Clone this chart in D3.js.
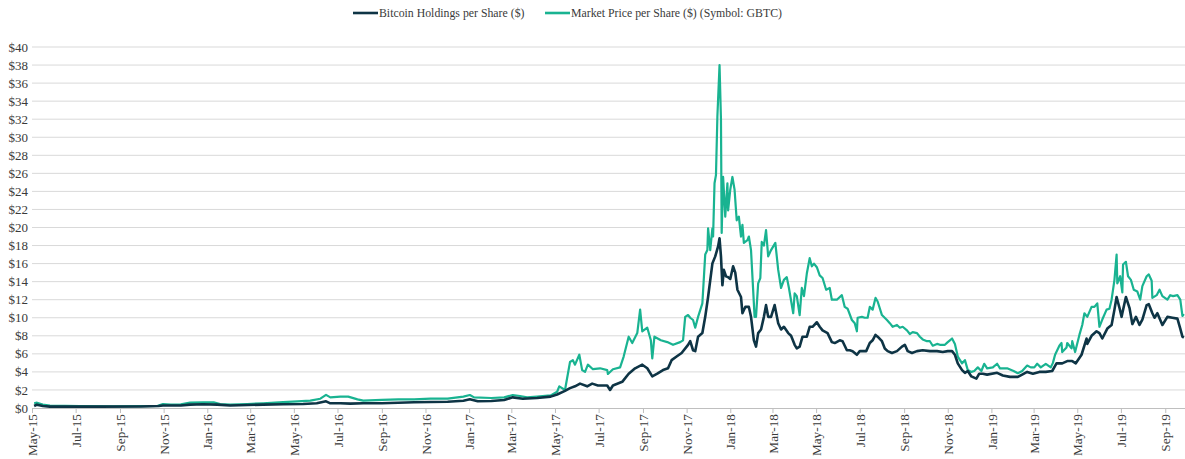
<!DOCTYPE html>
<html>
<head>
<meta charset="utf-8">
<script src="https://cdn.jsdelivr.net/npm/d3@7"></script>
<style>
  body { margin: 0; background: #fff; }
  svg text { font-family: "Liberation Serif", "Times New Roman", serif; fill: #3a3a3a; }
</style>
</head>
<body>
<div id="chart"></div>
<script>
// Data (dates, $ per share)

var holdingsDates = ["2015-05-04","2015-05-08","2015-05-16","2015-05-26","2015-08-04","2015-09-30","2015-10-25","2015-10-31","2015-11-25","2015-12-08","2015-12-26",
  "2016-01-15","2016-02-02","2016-02-26","2016-03-19","2016-04-16","2016-05-14","2016-06-02","2016-06-15","2016-06-21","2016-07-05","2016-07-19","2016-08-06","2016-09-01","2016-09-24","2016-10-16","2016-11-08","2016-12-02","2016-12-24",
  "2017-01-02","2017-01-13","2017-02-01","2017-02-19","2017-03-03","2017-03-17","2017-04-06","2017-04-25","2017-05-04","2017-05-15","2017-05-22","2017-05-29","2017-06-05","2017-06-15","2017-06-22","2017-06-30","2017-07-13","2017-07-17","2017-07-21","2017-08-03","2017-08-12","2017-08-21","2017-08-31","2017-09-07","2017-09-14","2017-09-21","2017-09-29","2017-10-06","2017-10-11","2017-10-18","2017-10-25","2017-11-03","2017-11-06","2017-11-10","2017-11-13","2017-11-17","2017-11-23","2017-11-27","2017-12-01","2017-12-07","2017-12-11","2017-12-15","2017-12-17","2017-12-19","2017-12-21","2017-12-23","2017-12-26","2017-12-29",
  "2018-01-01","2018-01-05","2018-01-08","2018-01-11","2018-01-16","2018-01-18","2018-01-22","2018-01-27","2018-01-30","2018-02-03","2018-02-06","2018-02-09","2018-02-13","2018-02-17","2018-02-20","2018-02-23","2018-02-27","2018-03-04","2018-03-09","2018-03-13","2018-03-17","2018-03-23","2018-03-27","2018-04-01","2018-04-04","2018-04-08","2018-04-12","2018-04-18","2018-04-22","2018-04-26","2018-05-02","2018-05-06","2018-05-10","2018-05-17","2018-05-23","2018-05-27","2018-06-03","2018-06-07","2018-06-13","2018-06-17","2018-06-21","2018-06-27","2018-07-01","2018-07-05","2018-07-10","2018-07-15","2018-07-19","2018-07-23","2018-07-26","2018-08-01","2018-08-05","2018-08-09","2018-08-15","2018-08-22","2018-08-29","2018-09-02","2018-09-06","2018-09-12","2018-09-19","2018-09-27","2018-10-07","2018-10-17","2018-10-25","2018-11-01","2018-11-07","2018-11-11","2018-11-15","2018-11-21","2018-11-25","2018-11-29","2018-12-04","2018-12-11","2018-12-15","2018-12-20","2018-12-26",
  "2019-01-09","2019-01-17","2019-01-27","2019-02-07","2019-02-13","2019-02-20","2019-02-28","2019-03-09","2019-03-18","2019-03-27","2019-04-02","2019-04-10","2019-04-17","2019-04-24","2019-04-29","2019-05-07","2019-05-14","2019-05-15","2019-05-21","2019-05-28","2019-06-01","2019-06-05","2019-06-12","2019-06-18","2019-06-22","2019-06-25","2019-06-29","2019-07-02","2019-07-03","2019-07-08","2019-07-13","2019-07-17","2019-07-22","2019-07-27","2019-07-31","2019-08-06","2019-08-09","2019-08-14","2019-08-17","2019-08-21","2019-08-28","2019-09-04","2019-09-11","2019-09-18","2019-09-22","2019-09-25","2019-09-27"];

var holdingsValues = [0.22,0.37,0.22,0.15,0.15,0.16,0.22,0.27,0.27,0.37,0.41,
  0.37,0.27,0.33,0.37,0.41,0.44,0.52,0.74,0.52,0.52,0.48,0.52,0.52,0.59,0.63,0.66,0.70,0.81,
  0.96,0.74,0.77,0.89,1.18,1.03,1.11,1.26,1.5,1.9,2.2,2.4,2.7,2.4,2.7,2.5,2.5,2.0,2.5,2.9,3.8,4.4,4.8,4.4,3.5,3.8,4.2,4.4,5.3,5.7,6.1,7.0,7.4,6.4,6.3,7.9,8.3,10.1,12.3,16.0,16.8,17.9,18.8,16.8,13.6,15.3,14.6,14.5,
  14.3,15.7,15.0,13.1,12.3,10.5,11.2,11.2,10.1,7.5,6.8,8.3,8.7,10.1,11.4,10.1,10.1,11.4,9.4,8.7,9.0,8.3,8.0,7.0,6.6,6.8,7.9,7.9,9.0,9.0,9.5,9.0,8.6,8.3,7.3,7.2,7.5,7.4,6.4,6.4,6.3,5.9,6.3,6.3,6.3,7.2,7.5,8.1,7.9,7.4,6.6,6.3,6.1,6.3,6.8,7.0,6.3,6.1,6.3,6.4,6.3,6.3,6.2,6.3,6.3,5.9,4.95,4.2,3.9,4.1,3.5,3.25,3.8,3.8,3.7,
  3.9,3.6,3.45,3.45,3.7,4.0,3.8,4.0,4.0,4.1,4.95,4.95,5.2,5.2,4.95,5.9,7.7,7.1,8.0,8.5,8.3,7.7,8.8,9.2,10.9,12.3,11.1,10.1,10.5,12.3,11.1,9.3,10.1,9.2,9.8,11.4,11.5,10.5,10.0,10.5,9.2,10.1,10.0,9.9,8.8,7.9,7.8];

var priceDates = ["2015-05-04","2015-05-08","2015-05-16","2015-05-26","2015-07-07","2015-08-22","2015-09-30","2015-10-23","2015-10-31","2015-11-11","2015-11-25","2015-12-08","2015-12-26",
  "2016-01-10","2016-01-19","2016-02-02","2016-02-26","2016-03-19","2016-04-16","2016-05-06","2016-05-24","2016-06-07","2016-06-15","2016-06-21","2016-07-05","2016-07-16","2016-07-29","2016-08-06","2016-09-01","2016-09-24","2016-10-16","2016-11-08","2016-12-02","2016-12-24",
  "2017-01-02","2017-01-08","2017-02-01","2017-02-19","2017-03-03","2017-03-13","2017-03-23","2017-04-06","2017-04-25","2017-05-04","2017-05-07","2017-05-15","2017-05-22","2017-05-26","2017-05-29","2017-06-04","2017-06-08","2017-06-12","2017-06-16","2017-06-23","2017-07-03","2017-07-13","2017-07-14","2017-07-21","2017-07-31","2017-08-05","2017-08-12","2017-08-17","2017-08-24","2017-08-28","2017-08-31","2017-09-07","2017-09-12","2017-09-14","2017-09-17","2017-09-26","2017-10-05","2017-10-13","2017-10-23","2017-10-27","2017-10-30","2017-11-03","2017-11-06","2017-11-10","2017-11-13","2017-11-17","2017-11-23","2017-11-27","2017-11-30","2017-12-01","2017-12-04","2017-12-07","2017-12-08","2017-12-10","2017-12-12","2017-12-14","2017-12-17","2017-12-19","2017-12-20","2017-12-22","2017-12-25","2017-12-28","2017-12-29",
  "2018-01-01","2018-01-04","2018-01-07","2018-01-10","2018-01-13","2018-01-16","2018-01-18","2018-01-20","2018-01-25","2018-01-27","2018-01-30","2018-02-04","2018-02-06","2018-02-09","2018-02-12","2018-02-14","2018-02-17","2018-02-20","2018-02-23","2018-02-27","2018-03-05","2018-03-09","2018-03-13","2018-03-17","2018-03-21","2018-03-24","2018-03-30","2018-04-01","2018-04-04","2018-04-08","2018-04-11","2018-04-14","2018-04-18","2018-04-22","2018-04-25","2018-04-28","2018-05-02","2018-05-06","2018-05-10","2018-05-15","2018-05-20","2018-05-23","2018-05-30","2018-06-06","2018-06-10","2018-06-14","2018-06-20","2018-06-24","2018-06-27","2018-06-28","2018-07-04","2018-07-08","2018-07-12","2018-07-15","2018-07-19","2018-07-23","2018-07-26","2018-08-01","2018-08-08","2018-08-12","2018-08-16","2018-08-22","2018-08-26","2018-08-30","2018-09-05","2018-09-09","2018-09-13","2018-09-19","2018-09-23","2018-09-27","2018-10-03","2018-10-07","2018-10-11","2018-10-17","2018-10-21","2018-10-28","2018-11-01","2018-11-04","2018-11-07","2018-11-11","2018-11-15","2018-11-21","2018-11-25","2018-11-29","2018-12-04","2018-12-08","2018-12-13","2018-12-18","2018-12-22","2018-12-26",
  "2019-01-03","2019-01-09","2019-01-13","2019-01-23","2019-02-01","2019-02-07","2019-02-13","2019-02-20","2019-02-25","2019-03-02","2019-03-06","2019-03-11","2019-03-18","2019-03-25","2019-03-28","2019-03-31","2019-04-06","2019-04-09","2019-04-10","2019-04-16","2019-04-17","2019-04-23","2019-04-24","2019-04-28","2019-05-04","2019-05-08","2019-05-11","2019-05-15","2019-05-21","2019-05-25","2019-05-29","2019-06-01","2019-06-05","2019-06-11","2019-06-15","2019-06-18","2019-06-22","2019-06-25","2019-06-26","2019-06-30","2019-07-03","2019-07-04","2019-07-08","2019-07-11","2019-07-15","2019-07-19","2019-07-24","2019-07-28","2019-07-31","2019-08-06","2019-08-09","2019-08-13","2019-08-14","2019-08-20","2019-08-24","2019-08-28","2019-09-04","2019-09-08","2019-09-12","2019-09-18","2019-09-22","2019-09-25","2019-09-27"];

var priceValues = [0.52,0.59,0.37,0.27,0.22,0.18,0.20,0.22,0.44,0.37,0.41,0.59,0.63,
  0.63,0.44,0.37,0.44,0.52,0.66,0.74,0.81,1.03,1.45,1.18,1.26,1.26,0.96,0.81,0.89,0.96,0.96,1.03,1.03,1.26,
  1.44,1.18,1.11,1.18,1.44,1.33,1.18,1.26,1.40,1.8,2.4,2.0,5.1,5.3,4.8,5.9,4.2,4.0,4.8,4.3,4.4,4.2,3.77,4.3,4.5,5.7,7.9,7.2,8.3,10.9,8.5,8.9,7.5,5.5,7.9,7.5,7.3,7.0,7.3,7.5,10.1,10.3,10.0,9.75,8.9,10.1,11.6,17.0,17.5,19.9,17.5,19.9,19.0,24.9,25.8,32.3,38.0,32.0,19.4,25.6,21.2,24.9,21.9,
  24.2,25.6,24.2,20.8,21.2,19.0,20.3,18.3,18.6,19.0,17.5,10.1,10.1,13.8,14.4,18.4,18.0,19.7,16.8,17.5,18.3,15.3,13.3,14.2,14.5,13.3,10.5,12.7,12.4,10.3,13.3,12.4,14.9,16.6,15.7,16.0,15.6,14.7,14.4,13.1,13.3,12.0,12.0,12.5,11.2,11.0,9.75,9.4,8.5,10.0,10.1,10.0,10.0,11.2,10.9,12.2,11.8,10.3,9.75,9.4,9.0,9.2,8.9,9.0,8.6,8.2,8.4,8.3,7.9,7.6,7.4,7.4,6.9,7.1,7.0,7.0,7.3,7.5,7.7,7.1,5.7,4.95,5.3,4.2,4.0,4.1,4.5,4.1,4.9,4.4,
  4.5,4.9,4.4,4.4,4.1,3.85,4.1,4.7,4.5,4.5,4.9,4.5,4.9,4.5,5.0,5.9,6.9,7.2,6.2,6.7,7.2,6.6,7.4,6.2,8.1,9.2,10.5,10.1,11.2,11.2,11.6,9.0,9.8,10.9,11.0,12.0,14.2,17.0,13.8,14.6,12.8,15.9,16.2,14.6,14.2,13.1,12.9,12.0,13.5,14.6,14.8,14.1,12.2,12.5,13.1,12.4,12.0,12.5,12.4,12.5,12.0,10.2,10.4];

var yTicks = [0,2,4,6,8,10,12,14,16,18,20,22,24,26,28,30,32,34,36,38,40];
var seriesNames = ["Bitcoin Holdings per Share ($)", "Market Price per Share ($) (Symbol: GBTC)"];
var seriesColors = ["#0e3445", "#19b391"];

const width = 1185, height = 459;
const margin = { left: 32, right: 0, top: 47, bottom: 51 };

const parse = d3.timeParse("%Y-%m-%d");
const holdings = holdingsDates.map((d, i) => ({ date: parse(d), value: holdingsValues[i] }));
const price = priceDates.map((d, i) => ({ date: parse(d), value: priceValues[i] }));

const svg = d3.select("#chart").append("svg")
    .attr("width", width)
    .attr("height", height);

const x = d3.scaleTime()
    .domain([new Date(2015, 4, 1), new Date(2019, 8, 30)])
    .range([margin.left, 1186]);

const y = d3.scaleLinear()
    .domain([0, 40])
    .range([height - margin.bottom, margin.top]);

// gridlines
svg.append("g")
    .selectAll("line")
    .data(yTicks.filter(d => d > 0))
    .enter()
    .append("line")
    .attr("x1", margin.left)
    .attr("x2", width)
    .attr("y1", d => y(d))
    .attr("y2", d => y(d))
    .attr("stroke", "#d9d9d9")
    .attr("stroke-width", 1);

// y labels
svg.append("g")
    .selectAll("text")
    .data(yTicks)
    .enter()
    .append("text")
    .attr("x", 28)
    .attr("y", d => y(d))
    .attr("dy", "0.35em")
    .attr("text-anchor", "end")
    .style("font-size", "13px")
    .text(d => "$" + d);

// x axis
const xAxis = svg.append("g")
    .attr("transform", `translate(0,${y(0)})`)
    .call(d3.axisBottom(x)
        .ticks(d3.timeMonth.every(2))
        .tickFormat(d3.timeFormat("%b-%y"))
        .tickSize(5)
        .tickSizeOuter(0));
xAxis.select(".domain").attr("stroke", "#bfbfbf").attr("d", `M${margin.left},0.5H${width}`);
xAxis.selectAll(".tick line").attr("stroke", "#bfbfbf");
xAxis.selectAll(".tick text")
    .attr("transform", "rotate(-90)")
    .attr("text-anchor", "end")
    .attr("x", -6)
    .attr("y", 0)
    .attr("dy", "0.35em")
    .style("font-family", "'Liberation Serif', serif")
    .style("font-size", "13.3px")
    .attr("fill", "#3a3a3a");

const line = d3.line()
    .x(d => x(d.date))
    .y(d => y(d.value));

svg.append("path")
    .datum(price)
    .attr("fill", "none")
    .attr("stroke", seriesColors[1])
    .attr("stroke-width", 2.2)
    .attr("stroke-linejoin", "round")
    .attr("d", line);

svg.append("path")
    .datum(holdings)
    .attr("fill", "none")
    .attr("stroke", seriesColors[0])
    .attr("stroke-width", 2.6)
    .attr("stroke-linejoin", "round")
    .attr("d", line);

// legend
const legend = svg.append("g").attr("class", "legend");
const legendX = [353, 545];
seriesNames.forEach((name, i) => {
    legend.append("line")
        .attr("x1", legendX[i])
        .attr("x2", legendX[i] + 25)
        .attr("y1", 13)
        .attr("y2", 13)
        .attr("stroke", seriesColors[i])
        .attr("stroke-width", 2.6);
    legend.append("text")
        .attr("x", legendX[i] + 26)
        .attr("y", 13)
        .attr("dy", "0.35em")
        .style("font-size", "11.8px")
        .text(name);
});
</script>
</body>
</html>
